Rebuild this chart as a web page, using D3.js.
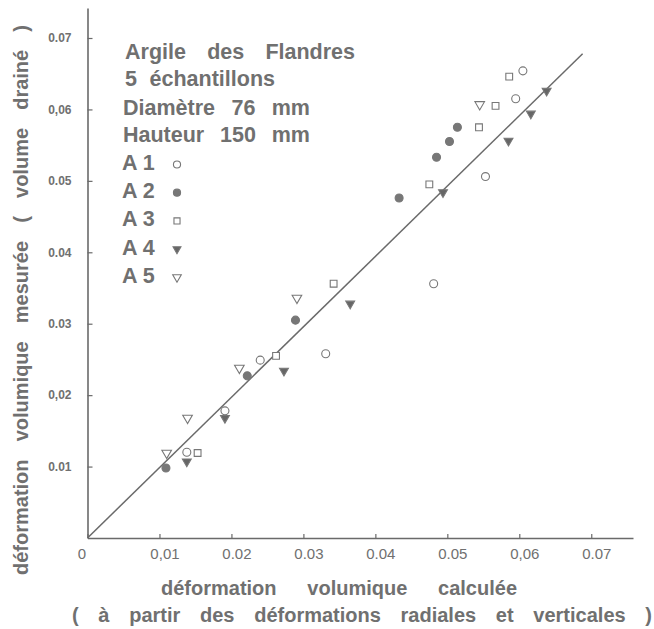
<!DOCTYPE html>
<html>
<head>
<meta charset="utf-8">
<script src="https://cdn.jsdelivr.net/npm/d3@7"></script>
<style>
  body { margin: 0; background: #fff; }
  text { font-family: "Liberation Sans", Arial, sans-serif; fill: #707070; }
  .title { font-size: 20px; font-weight: bold; }
  .legend { font-size: 21.5px; font-weight: bold; }
  .x-tick text { font-size: 15px; }
  .y-tick text { font-size: 12px; font-weight: bold; }
</style>
</head>
<body>
<div id="graph"></div>
<script>
const graphWidth = 654;
const graphHeight = 629;

// values: [calculée, mesurée]
const a1 = [[0.0138, 0.0120], [0.0191, 0.0178], [0.0240, 0.0249], [0.0331, 0.0258],
            [0.0481, 0.0356], [0.0553, 0.0506], [0.0595, 0.0615], [0.0605, 0.0654]];
const a2 = [[0.0109, 0.0098], [0.0222, 0.0227], [0.0289, 0.0305], [0.0433, 0.0476],
            [0.0485, 0.0533], [0.0503, 0.0555], [0.0514, 0.0575]];
const a3 = [[0.0153, 0.0119], [0.0262, 0.0255], [0.0342, 0.0356], [0.0475, 0.0495],
            [0.0544, 0.0575], [0.0567, 0.0605], [0.0586, 0.0646]];
const a4 = [[0.0138, 0.0107], [0.0191, 0.0168], [0.0273, 0.0234], [0.0365, 0.0328],
            [0.0494, 0.0484], [0.0585, 0.0556], [0.0616, 0.0594], [0.0638, 0.0626]];
const a5 = [[0.0110, 0.0119], [0.0139, 0.0168], [0.0211, 0.0238], [0.0291, 0.0336],
            [0.0545, 0.0607]];

const seriesNames = ['A 1', 'A 2', 'A 3', 'A 4', 'A 5'];
const fitLine = [[0, 0], [0.0688, 0.0678]];

const xTicks = [0, 0.01, 0.02, 0.03, 0.04, 0.05, 0.06, 0.07];
const xTickLabels = ['0', '0,01', '0.02', '0.03', '0.04', '0.05', '0,06', '0.07'];
const yTicks = [0.01, 0.02, 0.03, 0.04, 0.05, 0.06, 0.07];
const yTickLabels = ['0.01', '0,02', '0.03', '0.04', '0.05', '0,06', '0.07'];

const headerLines = ['Argile des Flandres', '5 échantillons', 'Diamètre 76 mm', 'Hauteur 150 mm'];
const xTitle = ['déformation volumique calculée',
                '( à partir des déformations radiales et verticales )'];
const yTitle = 'déformation volumique mesurée ( volume drainé )';

const ink = '#6a6a6a';

const x = d3.scaleLinear().domain([0, 0.0758]).range([87.5, 633]);
const y = d3.scaleLinear().domain([0, 0.0742]).range([538, 8]);

const markers = [
  { data: a1, type: d3.symbolCircle, size: 50, fill: '#fff', rot: 0 },
  { data: a2, type: d3.symbolCircle, size: 50, fill: '#777', rot: 0 },
  { data: a3, type: d3.symbolSquare, size: 46, fill: '#fff', rot: 0 },
  { data: a4, type: d3.symbolTriangle, size: 34, fill: '#666', rot: 180 },
  { data: a5, type: d3.symbolTriangle, size: 40, fill: '#fff', rot: 180 }
];

const svg = d3.select('#graph').append('svg')
  .attr('width', graphWidth).attr('height', graphHeight);

makeAxes(svg);
makeFitLine(svg);
makePoints(svg);
makeLegend(svg);
makeTitles(svg);

function makeAxes(sel) {
  const xAxis = d3.axisBottom(x)
    .tickValues(xTicks)
    .tickSizeInner(-4).tickSizeOuter(0).tickPadding(10)
    .tickFormat((d, i) => xTickLabels[i]);
  const gx = sel.append('g').attr('class', 'x-tick')
    .attr('transform', translate(0, y(0))).call(xAxis);
  gx.selectAll('text').attr('dx', d => d === 0 ? -6 : 5);

  const yAxis = d3.axisLeft(y)
    .tickValues(yTicks)
    .tickSizeInner(-5).tickSizeOuter(0).tickPadding(16)
    .tickFormat((d, i) => yTickLabels[i]);
  sel.append('g').attr('class', 'y-tick')
    .attr('transform', translate(x(0), 0)).call(yAxis);

  sel.selectAll('.domain').attr('stroke', ink).attr('stroke-width', 1.6);
  sel.selectAll('.tick line').attr('stroke', ink).attr('stroke-width', 1.2);
  sel.selectAll('.tick text').attr('fill', '#858585');
}

function makeFitLine(sel) {
  sel.append('path')
    .attr('d', d3.line().x(d => x(d[0])).y(d => y(d[1]))(fitLine))
    .attr('fill', 'none').attr('stroke', ink).attr('stroke-width', 1.5);
}

function makePoints(sel) {
  markers.forEach(m => {
    construct(sel.append('g'), m.data, 'path')
      .attr('transform', d => translate(x(d[0]), y(d[1])) + ' rotate(' + m.rot + ')')
      .attr('d', d3.symbol().type(m.type).size(m.size))
      .attr('fill', m.fill)
      .attr('stroke', '#777').attr('stroke-width', 1.1);
  });
}

function makeLegend(sel) {
  const head = construct(sel.append('g'), headerLines, 'text')
    .attr('class', 'legend')
    .attr('x', (d, i) => i < 2 ? 125 : 123)
    .attr('y', (d, i) => [59, 86, 115, 142][i])
    .text(d => d);
  fitWords(head, [230, 150, 187, 187]);

  const rows = construct(sel.append('g'), seriesNames, 'g')
    .attr('transform', (d, i) => translate(122, 170 + i * 28.2));
  rows.append('text').attr('class', 'legend').text(d => d);
  rows.append('path')
    .attr('transform', (d, i) => translate(55, -5.5) + ' rotate(' + markers[i].rot + ')')
    .attr('d', (d, i) => d3.symbol().type(markers[i].type).size(markers[i].size * 0.8)())
    .attr('fill', (d, i) => markers[i].fill)
    .attr('stroke', '#777').attr('stroke-width', 1.1);
}

function makeTitles(sel) {
  const xt = construct(sel.append('g'), xTitle, 'text')
    .attr('class', 'title')
    .attr('x', (d, i) => [161, 72][i])
    .attr('y', (d, i) => [595, 622][i])
    .text(d => d);
  fitWords(xt, [356, 580]);

  const yt = sel.append('text')
    .attr('class', 'title')
    .attr('transform', translate(28, 575) + ' rotate(-90)')
    .text(yTitle);
  fitWords(yt, [550]);
}

// Utilities

function fitWords(sel, widths) {
  sel.each(function(d, i) {
    const t = d3.select(this);
    const gaps = t.text().split(' ').length - 1;
    const natural = this.getComputedTextLength();
    if (gaps > 0) t.attr('word-spacing', (widths[i] - natural) / gaps);
  });
}

function construct(sel, data, tag) {
  return sel.selectAll(tag).data(data).enter().append(tag);
}

function translate(x, y) {
  return 'translate(' + x + ',' + y + ')';
}
</script>
</body>
</html>
